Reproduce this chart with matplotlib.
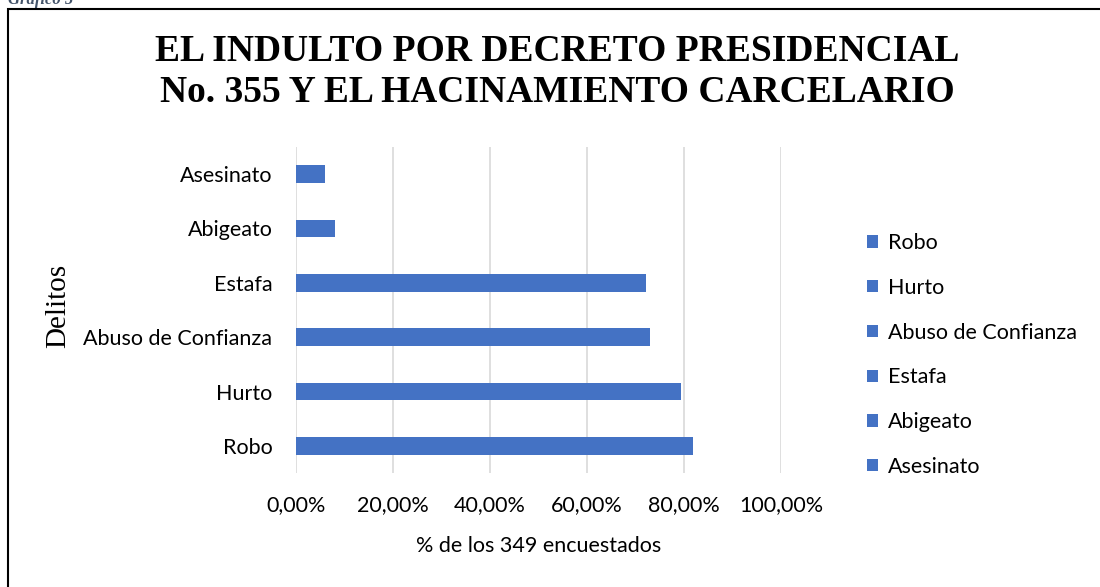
import matplotlib.pyplot as plt
from matplotlib.patches import Rectangle

# datos del grafico
delitos = ['Robo', 'Hurto', 'Abuso de Confianza', 'Estafa', 'Abigeato', 'Asesinato']
porcentajes = [81.95, 79.37, 73.07, 72.21, 8.02, 6.02]
ticks_x = [0, 20, 40, 60, 80, 100]
etiquetas_x = ['0,00%', '20,00%', '40,00%', '60,00%', '80,00%', '100,00%']

azul = '#4472C4'
fuente = 'Lato'
serif = 'Liberation Serif'
tam = 15.5

fig = plt.figure(figsize=(11, 5.87), dpi=100)
ax = fig.add_axes([296/1100, 1-473/587, (781-296)/1100, (473-147)/587])

for i in range(len(delitos)):
    ax.barh(i, porcentajes[i], height=0.32, color=azul, label=delitos[i], zorder=2)

ax.set_xlim(0, 100)
ax.set_ylim(-0.5, 5.5)
ax.set_xticks(ticks_x)
ax.set_xticklabels(etiquetas_x, fontfamily=fuente, fontsize=tam)
ax.set_yticks(range(len(delitos)))
ax.set_yticklabels(delitos, fontfamily=fuente, fontsize=tam)
ax.tick_params(axis='both', length=0)
ax.tick_params(axis='y', pad=17)
ax.tick_params(axis='x', pad=16)
ax.grid(axis='x', color='#D9D9D9', linewidth=1.2, zorder=0)
ax.set_axisbelow(True)
for s in ax.spines.values():
    s.set_visible(False)

ax.set_xlabel('% de los 349 encuestados', fontfamily=fuente, fontsize=tam, labelpad=15)

leg = ax.legend(loc='center left', frameon=False,
                prop={'family': fuente, 'size': tam}, handlelength=0.5, handleheight=0.5,
                handletextpad=0.5, labelspacing=1.15, borderpad=0)
leg.set_bbox_to_anchor((856/1100, 1-355/587), transform=fig.transFigure)

fig.text(557/1100, 1-72/587, 'EL INDULTO POR DECRETO PRESIDENCIAL\nNo. 355 Y EL HACINAMIENTO CARCELARIO',
         ha='center', va='center', fontfamily=serif, fontweight='bold', fontsize=27, linespacing=1.2)
fig.text(58/1100, 1-306/587, 'Delitos', rotation=90, ha='center', va='center',
         fontfamily=serif, fontsize=21)
fig.text(8/1100, 1-4/587, 'Gráfico 5', ha='left', va='baseline', fontfamily=serif,
         fontstyle='italic', fontweight='bold', fontsize=12, color='#44546A')

fig.patches.append(Rectangle((8/1100, -0.05), 1.2, 1-9/587+0.05, transform=fig.transFigure,
                             fill=False, edgecolor='black', linewidth=1.5))

fig.savefig('out.png', dpi=100)
